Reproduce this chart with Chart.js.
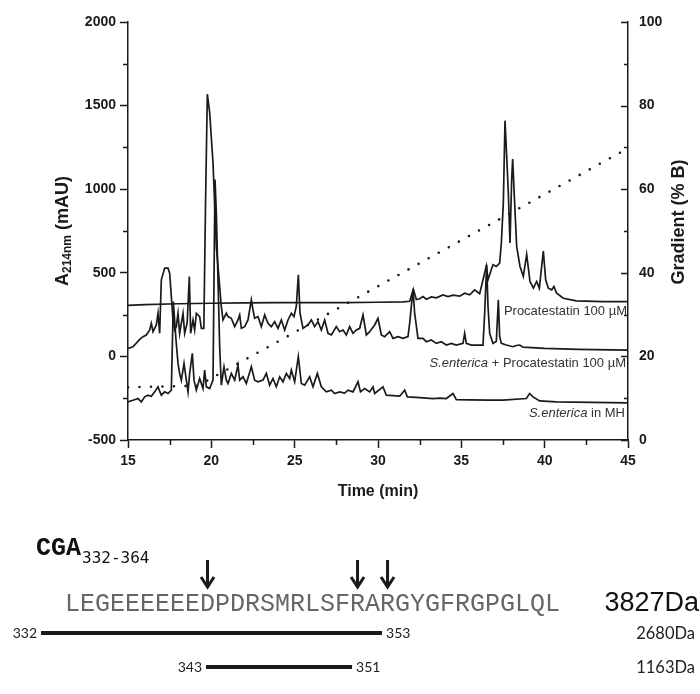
<!DOCTYPE html>
<html>
<head>
<meta charset="utf-8">
<script src="https://cdn.jsdelivr.net/npm/chart.js@4.4.1/dist/chart.umd.min.js"></script>
<style>
  html, body { margin: 0; padding: 0; background: #fff; }
  #wrap { position: relative; width: 700px; height: 694px; }
</style>
</head>
<body>
<div id="wrap"><canvas id="chart" width="700" height="694"></canvas></div>
<script>
// Procatestatin 100 µM (top trace)
const procTime = [15, 16, 18, 20, 22, 24, 26, 28, 30, 31.5, 31.9, 32.12, 32.3, 32.5, 32.7, 32.9, 33.2, 33.5, 33.9, 34.2, 34.5, 34.9, 35.2, 35.5, 35.8, 36.1, 36.3, 36.5, 36.6, 36.76, 36.9, 37.1, 37.3, 37.4, 37.52, 37.62, 37.72, 37.82, 37.92, 38.02, 38.08, 38.18, 38.32, 38.52, 38.72, 38.92, 39.12, 39.32, 39.52, 39.68, 39.82, 39.92, 40.06, 40.22, 40.42, 40.56, 40.72, 41.12, 41.9, 43.5, 45];
const procAbs = [305, 310, 315, 318, 320, 322, 322, 322, 324, 326, 330, 402, 340, 345, 358, 342, 356, 350, 368, 358, 366, 360, 378, 368, 398, 375, 458, 540, 458, 508, 548, 538, 558, 678, 918, 1410, 1198, 978, 678, 1058, 1180, 958, 658, 538, 478, 610, 448, 408, 448, 408, 538, 630, 458, 408, 398, 418, 378, 348, 332, 328, 328];

// S.enterica + Procatestatin 100 µM (middle trace)
const mixTime = [15, 15.3, 15.7, 15.9, 16.1, 16.3, 16.4, 16.5, 16.7, 16.8, 16.9, 17.0, 17.2, 17.4, 17.5, 17.6, 17.7, 17.8, 17.9, 18.0, 18.1, 18.3, 18.4, 18.55, 18.68, 18.76, 18.9, 19.0, 19.1, 19.3, 19.4, 19.55, 19.65, 19.76, 19.9, 20.1, 20.3, 20.5, 20.6, 20.7, 20.9, 21.0, 21.2, 21.4, 21.6, 21.7, 21.8, 22.0, 22.2, 22.4, 22.5, 22.6, 22.8, 23.0, 23.2, 23.4, 23.6, 23.8, 24.0, 24.2, 24.4, 24.6, 24.8, 24.96, 25.1, 25.22, 25.32, 25.5, 25.8, 26.0, 26.2, 26.4, 26.6, 26.8, 27.0, 27.2, 27.5, 27.7, 27.9, 28.1, 28.3, 28.5, 28.7, 28.9, 29.1, 29.3, 29.5, 29.8, 30.0, 30.2, 30.4, 30.7, 30.9, 31.2, 31.5, 31.8, 31.9, 32.1, 32.2, 32.4, 32.7, 32.9, 33.2, 33.5, 33.8, 34.1, 34.4, 34.7, 35.1, 35.2, 35.3, 35.6, 35.9, 36.3, 36.4, 36.52, 36.6, 36.7, 36.9, 37.1, 37.22, 37.3, 37.4, 37.7, 38.1, 38.3, 38.5, 38.7, 40, 42, 45];
const mixAbs = [48, 58, 102, 118, 128, 158, 198, 148, 188, 258, 138, 458, 528, 528, 498, 358, 218, 158, 178, 258, 138, 258, 138, 200, 478, 138, 218, 158, 258, 238, 168, 168, 900, 1568, 1458, 1158, 658, 418, 298, 218, 258, 238, 228, 178, 218, 248, 168, 178, 218, 338, 278, 228, 238, 178, 248, 198, 178, 208, 168, 218, 158, 218, 258, 238, 300, 488, 258, 168, 188, 218, 178, 208, 158, 218, 138, 128, 178, 148, 158, 128, 178, 138, 158, 168, 248, 128, 148, 188, 228, 128, 118, 148, 108, 118, 108, 118, 198, 402, 258, 108, 108, 88, 98, 78, 88, 68, 78, 68, 78, 138, 78, 68, 68, 68, 258, 548, 300, 138, 78, 90, 338, 120, 78, 68, 58, 65, 68, 55, 48, 42, 38];

// S.enterica in MH (bottom trace)
const mhTime = [15, 15.3, 15.6, 15.8, 16.0, 16.2, 16.4, 16.6, 16.8, 17.0, 17.2, 17.4, 17.6, 17.72, 17.88, 18.0, 18.1, 18.2, 18.36, 18.5, 18.6, 18.7, 18.86, 18.96, 19.1, 19.3, 19.5, 19.6, 19.7, 19.9, 20.1, 20.22, 20.3, 20.4, 20.5, 20.6, 20.76, 20.9, 21.0, 21.2, 21.4, 21.6, 21.7, 21.9, 22.1, 22.4, 22.6, 22.8, 23.1, 23.3, 23.5, 23.7, 23.9, 24.1, 24.3, 24.5, 24.7, 24.8, 25.0, 25.22, 25.4, 25.6, 25.9, 26.1, 26.36, 26.6, 26.9, 27.2, 27.4, 27.7, 28.0, 28.2, 28.5, 28.8, 28.95, 29.2, 29.5, 29.7, 29.8, 30.3, 30.5, 30.9, 31.3, 31.6, 31.76, 32.3, 33.3, 33.7, 34.1, 34.5, 34.7, 35.5, 36.7, 37.5, 38.9, 39.1, 39.3, 39.7, 40.7, 45];
const mhAbs = [-272, -262, -252, -272, -242, -232, -238, -212, -182, -232, -212, -222, -202, 328, 98, -42, -102, -142, -42, -142, -212, -102, 18, -142, -202, -132, -192, -82, -182, -192, -142, 1058, 858, 458, 58, -172, -62, -142, -162, -102, -142, -52, -142, -122, -162, -62, -142, -152, -142, -102, -172, -132, -182, -122, -152, -102, -132, -82, -152, -2, -162, -172, -122, -182, -102, -182, -212, -202, -222, -212, -220, -202, -212, -152, -212, -192, -212, -182, -222, -182, -232, -235, -238, -202, -242, -245, -252, -250, -252, -222, -258, -260, -262, -262, -252, -222, -242, -266, -272, -278];

// Gradient (% B), dotted
const gradTime = [15, 19.2, 45];
const gradPct = [12.6, 13.0, 69.8];

const xTicks = [15, 20, 25, 30, 35, 40, 45];
const yTicks = [-500, 0, 500, 1000, 1500, 2000];
const y1Ticks = [0, 20, 40, 60, 80, 100];

// Peptide map under the chart
const seqText = 'LEGEEEEEEDPDRSMRLSFRARGYGFRGPGLQL';
const seqFirst = 332;
const seqLast = 364;
const seqMass = '3827Da';
const cleaveAt = [341, 351, 353];
const fragFrom = [332, 343];
const fragTo = [353, 351];
const fragMass = ['2680Da', '1163Da'];

const INK = '#1a1a1a';
const SANS = '"Liberation Sans", Arial, sans-serif';
const MONO = '"Liberation Mono", "DejaVu Sans Mono", monospace';

const pts = (xs, ys) => xs.map((x, i) => ({ x, y: ys[i] }));

const traceLine = (data) => ({
  data, borderColor: INK, borderWidth: 1.7, pointRadius: 0, tension: 0, yAxisID: 'y',
});

function drawParts(ctx, parts, xRight, y) {
  // parts: [text, italic], drawn right-aligned so the last one ends at xRight
  const widths = parts.map(([t, it]) => {
    ctx.font = (it ? 'italic ' : '') + '13px ' + SANS;
    return ctx.measureText(t).width;
  });
  let x = xRight - widths.reduce((a, b) => a + b, 0);
  parts.forEach(([t, it], i) => {
    ctx.font = (it ? 'italic ' : '') + '13px ' + SANS;
    ctx.fillText(t, x, y);
    x += widths[i];
  });
}

const decor = {
  id: 'decor',
  afterDraw(chart) {
    const { ctx, chartArea: a, scales: { x, y, y1 } } = chart;
    ctx.save();
    ctx.strokeStyle = INK;
    ctx.lineWidth = 1.5;

    // minor ticks on left and bottom point outward
    ctx.beginPath();
    for (let v = -250; v < 2000; v += 500) {
      const py = Math.round(y.getPixelForValue(v)) + 0.5;
      ctx.moveTo(a.left - 5, py); ctx.lineTo(a.left, py);
    }
    for (let t = 17.5; t < 45; t += 5) {
      const px = Math.round(x.getPixelForValue(t)) + 0.5;
      ctx.moveTo(px, a.bottom); ctx.lineTo(px, a.bottom + 5);
    }
    // right axis ticks point inward
    for (let v = 0; v <= 100; v += 10) {
      const py = Math.round(y1.getPixelForValue(v)) + 0.5;
      const len = v % 20 === 0 ? 7 : 4;
      ctx.moveTo(a.right - len, py); ctx.lineTo(a.right, py);
    }
    ctx.stroke();

    // trace labels
    ctx.fillStyle = '#333';
    ctx.textBaseline = 'middle';
    ctx.textAlign = 'left';
    drawParts(ctx, [['Procatestatin 100 µM', false]], a.right - 1, y.getPixelForValue(267));
    drawParts(ctx, [['S.enterica', true], [' + Procatestatin 100 µM', false]], a.right - 2, y.getPixelForValue(-41));
    drawParts(ctx, [['S.enterica', true], [' in MH', false]], a.right - 3, y.getPixelForValue(-340));

    // left axis title with subscript
    ctx.fillStyle = INK;
    ctx.save();
    ctx.translate(63, (a.top + a.bottom) / 2);
    ctx.rotate(-Math.PI / 2);
    ctx.textBaseline = 'middle';
    const big = 'bold 18px ' + SANS, small = 'bold 12px ' + SANS;
    ctx.font = big; const wA = ctx.measureText('A').width; const wU = ctx.measureText(' (mAU)').width;
    ctx.font = small; const wS = ctx.measureText('214nm').width;
    let tx = -(wA + wS + wU) / 2;
    ctx.font = big; ctx.fillText('A', tx, 0); tx += wA;
    ctx.font = small; ctx.fillText('214nm', tx, 5); tx += wS;
    ctx.font = big; ctx.fillText(' (mAU)', tx, 0);
    ctx.restore();

    // right axis title
    ctx.save();
    ctx.translate(679, 222);
    ctx.rotate(-Math.PI / 2);
    ctx.textAlign = 'center';
    ctx.textBaseline = 'middle';
    ctx.font = 'bold 18px ' + SANS;
    ctx.fillText('Gradient (% B)', 0, 0);
    ctx.restore();

    // peptide map
    const sx = 65;
    ctx.font = '25px ' + MONO;
    const cw = ctx.measureText(seqText).width / seqText.length;
    ctx.textBaseline = 'alphabetic';
    ctx.textAlign = 'left';
    ctx.fillStyle = '#666';
    ctx.fillText(seqText, sx, 611);

    ctx.fillStyle = '#111';
    ctx.font = 'bold 25px ' + MONO;
    ctx.fillText('CGA', 36, 555);
    const wCGA = ctx.measureText('CGA').width;
    ctx.font = '16px "DejaVu Sans Mono", monospace';
    ctx.fillText(seqFirst + '-' + seqLast, 36 + wCGA + 1, 563);

    ctx.font = '27px ' + SANS;
    ctx.textAlign = 'right';
    ctx.fillText(seqMass, 699, 611);

    // cleavage arrows
    ctx.lineWidth = 3;
    ctx.lineCap = 'butt';
    cleaveAt.forEach(r => {
      const ax = sx + (r - seqFirst + 0.5) * cw;
      ctx.beginPath();
      ctx.moveTo(ax, 560); ctx.lineTo(ax, 586);
      ctx.moveTo(ax - 6.5, 577); ctx.lineTo(ax, 587); ctx.lineTo(ax + 6.5, 577);
      ctx.stroke();
    });

    // fragments
    fragFrom.forEach((f, i) => {
      const ly = 633 + i * 34;
      const x0 = sx + (f - seqFirst) * cw - 24;
      const x1 = sx + (fragTo[i] - seqFirst) * cw + 2;
      ctx.lineWidth = 4;
      ctx.beginPath(); ctx.moveTo(x0, ly); ctx.lineTo(x1, ly); ctx.stroke();
      ctx.textBaseline = 'middle';
      ctx.font = '14px Lato, ' + SANS;
      ctx.fillStyle = '#222';
      ctx.textAlign = 'right';
      ctx.fillText(String(f), x0 - 4, ly);
      ctx.textAlign = 'left';
      ctx.fillText(String(fragTo[i]), x1 + 4, ly);
      ctx.font = '16.5px Lato, ' + SANS;
      ctx.textAlign = 'right';
      ctx.fillText(fragMass[i], 695, ly + 1);
    });
    ctx.restore();
  }
};

const tickFont = { family: SANS, size: 14, weight: 'bold' };
const plain = v => String(v);

new Chart(document.getElementById('chart'), {
  type: 'line',
  data: {
    datasets: [
      traceLine(pts(procTime, procAbs)),
      traceLine(pts(mixTime, mixAbs)),
      traceLine(pts(mhTime, mhAbs)),
      {
        data: pts(gradTime, gradPct),
        yAxisID: 'y1',
        borderColor: INK,
        borderWidth: 2.6,
        borderDash: [0, 11.5],
        borderCapStyle: 'round',
        pointRadius: 0,
        tension: 0,
      },
    ],
  },
  options: {
    responsive: false,
    animation: false,
    layout: { padding: { top: 22, bottom: 174, left: 0, right: 0 } },
    plugins: { legend: { display: false }, tooltip: { enabled: false } },
    scales: {
      x: {
        type: 'linear', min: 15, max: 45,
        afterBuildTicks: s => { s.ticks = xTicks.map(v => ({ value: v })); },
        afterFit: s => { s.height = 80; },
        ticks: { font: tickFont, color: INK, padding: 5, maxRotation: 0, callback: plain },
        grid: { drawOnChartArea: false, tickLength: 8, tickColor: INK, tickWidth: 1.5 },
        border: { color: INK, width: 1.5 },
        title: { display: true, text: 'Time (min)', color: INK, font: { family: SANS, size: 16, weight: 'bold' }, padding: { top: 0, bottom: 19 } },
      },
      y: {
        type: 'linear', position: 'left', min: -500, max: 2000,
        afterBuildTicks: s => { s.ticks = yTicks.map(v => ({ value: v })); },
        afterFit: s => { s.width = 128; },
        ticks: { font: tickFont, color: INK, padding: 4, callback: plain },
        grid: { drawOnChartArea: false, tickLength: 8, tickColor: INK, tickWidth: 1.5 },
        border: { color: INK, width: 1.5 },
      },
      y1: {
        type: 'linear', position: 'right', min: 0, max: 100,
        afterBuildTicks: s => { s.ticks = y1Ticks.map(v => ({ value: v })); },
        afterFit: s => { s.width = 72; },
        ticks: { font: tickFont, color: INK, padding: 11, callback: plain },
        grid: { drawOnChartArea: false, drawTicks: false },
        border: { color: INK, width: 1.5 },
      },
    },
  },
  plugins: [decor],
});
</script>
</body>
</html>
